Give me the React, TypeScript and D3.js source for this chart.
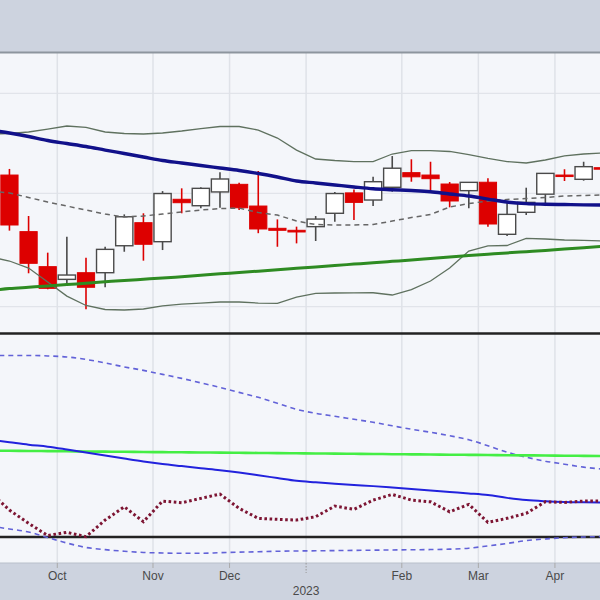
import React from "react";
import * as d3 from "d3";

// Weekly bars (Mondays)
const weeks = [
  "2022-09-05", "2022-09-12", "2022-09-19", "2022-09-26", "2022-10-03", "2022-10-10", "2022-10-17",
  "2022-10-24", "2022-10-31", "2022-11-07", "2022-11-14", "2022-11-21", "2022-11-28", "2022-12-05",
  "2022-12-12", "2022-12-19", "2022-12-26", "2023-01-02", "2023-01-09", "2023-01-16", "2023-01-23",
  "2023-01-30", "2023-02-06", "2023-02-13", "2023-02-20", "2023-02-27", "2023-03-06", "2023-03-13",
  "2023-03-20", "2023-03-27", "2023-04-03", "2023-04-10", "2023-04-17",
];

const open = [null, 81.74, 76.47, 73.38, 72.29, 72.86, 72.86, 75.21, 77.28, 75.57, 79.44, 78.84, 80.13, 80.85, 78.81, 76.77, 76.59, 76.92, 78.14, 80.04, 79.37, 80.57, 81.97, 81.74, 80.88, 80.25, 81.05, 76.23, 78.23, 79.92, 81.74, 81.33, 82.45];
const high = [null, 82.33, 77.89, 74.6, 76.02, 74.16, 75.12, 78.04, 78.14, 80.21, 80.47, 80.57, 82.01, 81.0, 82.13, 77.58, 76.92, 77.89, 80.13, 80.36, 81.57, 83.59, 83.27, 83.03, 81.07, 81.04, 81.43, 79.21, 80.53, 81.9, 82.3, 83.03, 82.84];
const low = [null, 76.56, 72.81, 71.45, 71.95, 69.79, 71.62, 74.68, 73.9, 74.83, 78.14, 78.6, 78.65, 78.44, 76.33, 75.12, 75.42, 75.63, 77.37, 77.52, 78.81, 80.15, 81.1, 80.31, 78.69, 78.6, 76.92, 76.08, 77.98, 78.81, 81.17, 81.2, 81.99];
const close = [null, 77.07, 73.67, 71.53, 72.66, 71.62, 74.89, 77.82, 75.34, 79.98, 79.12, 80.47, 81.36, 78.65, 76.71, 76.59, 76.44, 77.61, 79.98, 79.15, 81.1, 82.4, 81.57, 81.39, 79.28, 81.04, 77.16, 78.04, 79.15, 81.9, 81.65, 82.55, 82.31];

const smaMid = [86.19, 85.89, 85.54, 85.13, 84.83, 84.53, 84.18, 83.84, 83.5, 83.15, 82.91, 82.66, 82.42, 82.18, 81.89, 81.55, 81.17, 80.98, 80.79, 80.6, 80.43, 80.34, 80.26, 80.15, 79.93, 79.75, 79.46, 79.18, 79.03, 78.98, 78.95, 78.92, 78.9];
const smaLong = [71.35, 71.51, 71.62, 71.73, 71.85, 71.96, 72.08, 72.2, 72.3, 72.4, 72.52, 72.64, 72.76, 72.87, 72.99, 73.12, 73.24, 73.36, 73.48, 73.6, 73.72, 73.84, 73.96, 74.09, 74.22, 74.34, 74.46, 74.58, 74.69, 74.8, 74.92, 75.04, 75.16];
const bbUpper = [85.79, 85.84, 85.99, 86.29, 86.6, 86.45, 85.99, 85.84, 85.79, 85.89, 86.09, 86.34, 86.55, 86.55, 86.19, 85.38, 84.18, 83.3, 83.15, 83.05, 83.05, 83.79, 84.12, 84.12, 84.04, 83.74, 83.35, 83.05, 82.91, 83.2, 83.6, 83.79, 83.89];
const bbMiddle = [80.22, 80.03, 79.61, 79.18, 78.81, 78.44, 78.07, 77.8, 77.89, 78.07, 78.26, 78.44, 78.58, 78.62, 78.21, 77.98, 77.43, 77.11, 77.07, 77.07, 77.11, 77.43, 77.75, 78.03, 78.72, 79.04, 79.28, 79.42, 79.51, 79.61, 79.75, 79.79, 79.84];
const bbLower = [74.22, 73.87, 73.26, 72.06, 70.88, 70.1, 69.77, 69.73, 69.81, 70.06, 70.22, 70.3, 70.39, 70.39, 70.3, 70.28, 70.8, 71.11, 71.14, 71.15, 71.16, 70.97, 71.43, 72.15, 73.26, 74.74, 75.19, 75.23, 75.87, 75.81, 75.72, 75.68, 75.63];

// Lower panel oscillator
const rsi = [38.82, 35.29, 32.69, 30.29, 30.92, 30.06, 33.33, 35.94, 33.0, 37.06, 36.73, 37.59, 38.43, 35.63, 33.67, 33.47, 33.33, 33.98, 36.08, 35.43, 37.25, 38.37, 37.25, 36.92, 34.96, 36.41, 32.88, 33.67, 34.65, 36.92, 36.8, 37.06, 37.06];
const oscUpper = [65.69, 65.69, 65.69, 65.59, 65.39, 64.9, 64.22, 63.43, 62.75, 61.96, 61.18, 60.29, 59.41, 58.43, 57.45, 56.27, 55.1, 54.31, 53.73, 53.14, 52.55, 51.86, 51.18, 50.59, 49.9, 49.12, 47.94, 46.67, 45.69, 44.9, 44.31, 43.73, 43.33];
const oscLower = [32.16, 31.57, 30.98, 29.9, 28.82, 27.94, 27.51, 27.2, 26.96, 26.86, 26.8, 26.8, 26.92, 27.02, 27.1, 27.2, 27.25, 27.29, 27.33, 27.37, 27.41, 27.45, 27.49, 27.53, 27.61, 27.8, 28.24, 28.73, 29.31, 29.61, 29.86, 30.0, 30.1];
const oscAvg = [49.12, 48.63, 48.14, 47.75, 47.2, 46.61, 46.0, 45.41, 44.84, 44.35, 43.94, 43.53, 43.14, 42.67, 42.14, 41.59, 41.04, 40.75, 40.49, 40.24, 40.0, 39.73, 39.45, 39.16, 38.86, 38.57, 38.24, 37.69, 37.25, 37.02, 36.88, 36.82, 36.8];
const oscLong = [46.98, 46.95, 46.91, 46.88, 46.85, 46.81, 46.78, 46.75, 46.71, 46.68, 46.65, 46.62, 46.58, 46.55, 46.52, 46.48, 46.45, 46.42, 46.38, 46.35, 46.32, 46.28, 46.25, 46.22, 46.18, 46.15, 46.12, 46.08, 46.05, 46.02, 45.98, 45.95, 45.92];
const oscLevels = [30, 70];
const priceGrid = [70, 80, 90];

export default function App() {
  const W = 600;
  const H = 600;
  const plotTop = 53;
  const plotBottom = 563;
  const step = 19.14;
  const x0 = -9.7;

  const x = d3.scaleLinear().domain([0, weeks.length - 1]).range([x0, x0 + step * (weeks.length - 1)]);
  const yP = d3.scaleLog().domain([70, 90]).range([306.7, 93.3]);
  const yO = d3.scaleLinear().domain([30, 70]).range([537, 333.5]);

  const parse = d3.timeParse("%Y-%m-%d");
  const dates = weeks.map((w) => parse(w) as Date);
  const fmtMon = d3.timeFormat("%b");
  const fmtYear = d3.timeFormat("%Y");
  const ticks: { pos: number; label: string; year: string | null }[] = [];
  for (let i = 1; i < dates.length; i++) {
    if (dates[i].getMonth() !== dates[i - 1].getMonth()) {
      const isJan = dates[i].getMonth() === 0;
      ticks.push({ pos: x(i - 0.5), label: isJan ? "" : fmtMon(dates[i]), year: isJan ? fmtYear(dates[i]) : null });
    }
  }

  const lineP = (arr: number[], curve = d3.curveLinear) =>
    d3.line<number>().x((_, i) => x(i)).y((d) => yP(d)).curve(curve)(arr) || "";
  const lineO = (arr: number[], curve = d3.curveLinear) =>
    d3.line<number>().x((_, i) => x(i)).y((d) => yO(d)).curve(curve)(arr) || "";

  const bw = step * 0.9;
  const font = "'Liberation Sans', Arial, sans-serif";

  return (
    <svg width={W} height={H} style={{ position: "fixed", left: 0, top: 0, display: "block" }}>
      <defs>
        <clipPath id="plotclip">
          <rect x={0} y={plotTop} width={W} height={plotBottom - plotTop} />
        </clipPath>
      </defs>
      <rect x={0} y={0} width={W} height={H} fill="#cdd3df" />
      <rect x={0} y={plotTop} width={W} height={plotBottom - plotTop} fill="#f4f6fa" />
      {/* grid */}
      {priceGrid.map((g) => (
        <line key={"hg" + g} x1={0} x2={W} y1={yP(g)} y2={yP(g)} stroke="#e1e4ea" strokeWidth={1.3} />
      ))}
      {ticks.map((t, i) => (
        <line key={"vg" + i} x1={t.pos} x2={t.pos} y1={plotTop} y2={plotBottom} stroke="#dfe2e8" strokeWidth={1.5} />
      ))}
      <g clipPath="url(#plotclip)">
        {/* candles */}
        {weeks.map((w, i) => {
          const o = open[i], h = high[i], l = low[i], c = close[i];
          if (o == null || h == null || l == null || c == null) return null;
          const up = c >= o;
          const col = up ? "#4a4a4a" : "#dd0000";
          const top = yP(Math.max(o, c));
          const bot = yP(Math.min(o, c));
          return (
            <g key={w}>
              <line x1={x(i)} x2={x(i)} y1={yP(h)} y2={yP(l)} stroke={col} strokeWidth={1.6} />
              <rect x={x(i) - bw / 2} y={top} width={bw} height={Math.max(bot - top, 1.5)}
                fill={up ? "#ffffff" : "#dd0000"} stroke={col} strokeWidth={up ? 1.4 : 1} />
            </g>
          );
        })}
        {/* bollinger */}
        <path d={lineP(bbUpper)} fill="none" stroke="#5f715f" strokeWidth={1.3} />
        <path d={lineP(bbLower)} fill="none" stroke="#5f715f" strokeWidth={1.3} />
        <path d={lineP(bbMiddle)} fill="none" stroke="#666" strokeWidth={1.5} strokeDasharray="5,4" />
        <path d={lineP(smaMid, d3.curveMonotoneX)} fill="none" stroke="#11118a" strokeWidth={3.4} />
        <path d={lineP(smaLong, d3.curveMonotoneX)} fill="none" stroke="#2e8b22" strokeWidth={3} />

        {/* oscillator panel */}
        {oscLevels.map((v) => (
          <line key={"lv" + v} x1={0} x2={W} y1={yO(v)} y2={yO(v)} stroke="#222" strokeWidth={2.6} />
        ))}
        <path d={lineO(oscUpper, d3.curveMonotoneX)} fill="none" stroke="#6262d8" strokeWidth={1.6} strokeDasharray="5,4" />
        <path d={lineO(oscLower, d3.curveMonotoneX)} fill="none" stroke="#6262d8" strokeWidth={1.6} strokeDasharray="5,4" />
        <path d={lineO(oscLong, d3.curveMonotoneX)} fill="none" stroke="#44ee44" strokeWidth={2.6} />
        <path d={lineO(oscAvg, d3.curveMonotoneX)} fill="none" stroke="#2222dd" strokeWidth={2} />
        <path d={lineO(rsi)} fill="none" stroke="#7d1533" strokeWidth={3} strokeDasharray="2.6,2.6" />
      </g>
      {/* frame lines */}
      <line x1={0} x2={W} y1={plotTop - 0.5} y2={plotTop - 0.5} stroke="#8d959e" strokeWidth={2} />
      <line x1={0} x2={W} y1={plotBottom} y2={plotBottom} stroke="#b9c0cb" strokeWidth={1} />
      {/* x axis */}
      {ticks.map((t, i) => (
        <g key={"t" + i}>
          {t.year ? (
            <line x1={t.pos} x2={t.pos} y1={plotBottom} y2={plotBottom + 10} stroke="#999" strokeWidth={1} strokeDasharray="1.5,1.5" />
          ) : (
            <line x1={t.pos} x2={t.pos} y1={plotBottom} y2={plotBottom + 5} stroke="#aaa" strokeWidth={1} />
          )}
          {t.label && (
            <text x={t.pos} y={580} textAnchor="middle" fontSize={12} fill="#4a4a4a" fontFamily={font}>{t.label}</text>
          )}
          {t.year && (
            <text x={t.pos} y={595} textAnchor="middle" fontSize={12} fill="#4a4a4a" fontFamily={font}>{t.year}</text>
          )}
        </g>
      ))}
    </svg>
  );
}
